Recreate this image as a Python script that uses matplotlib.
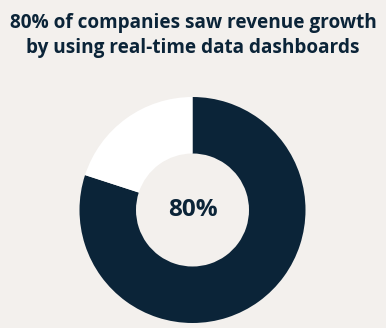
import matplotlib.pyplot as plt

labels = ["Saw revenue growth", "Did not"]
shares = [80, 20]
center_label = "80%"
title_lines = ["80% of companies saw revenue growth",
               "by using real-time data dashboards"]

bg = "#f3f0ed"
navy = "#0b2438"

W, H = 386, 328
fig = plt.figure(figsize=(W / 100, H / 100), dpi=100, facecolor=bg)

# donut axes: centre ~ (192, 210) px, radius ~113 px
cx, cy, r = 192.5, 210, 113
ax = fig.add_axes([(cx - r) / W, (H - cy - r) / H, 2 * r / W, 2 * r / H])
ax.set_facecolor(bg)
ax.pie(shares, colors=[navy, "white"], startangle=90, counterclock=False,
       radius=1, wedgeprops=dict(width=0.5, linewidth=0))
ax.set_xlim(-1, 1)
ax.set_ylim(-1, 1)
ax.set_aspect("equal")
ax.axis("off")
ax.text(0, 0, center_label, ha="center", va="center", fontsize=17.5,
        fontweight="bold", color=navy, family="Open Sans")

for line, base in zip(title_lines, [28, 53]):
    fig.text(0.5, 1 - base / H, line, ha="center", va="baseline", fontsize=13.7,
             fontweight="bold", color=navy, family="Open Sans")

fig.savefig("out.png", dpi=100, facecolor=bg)
